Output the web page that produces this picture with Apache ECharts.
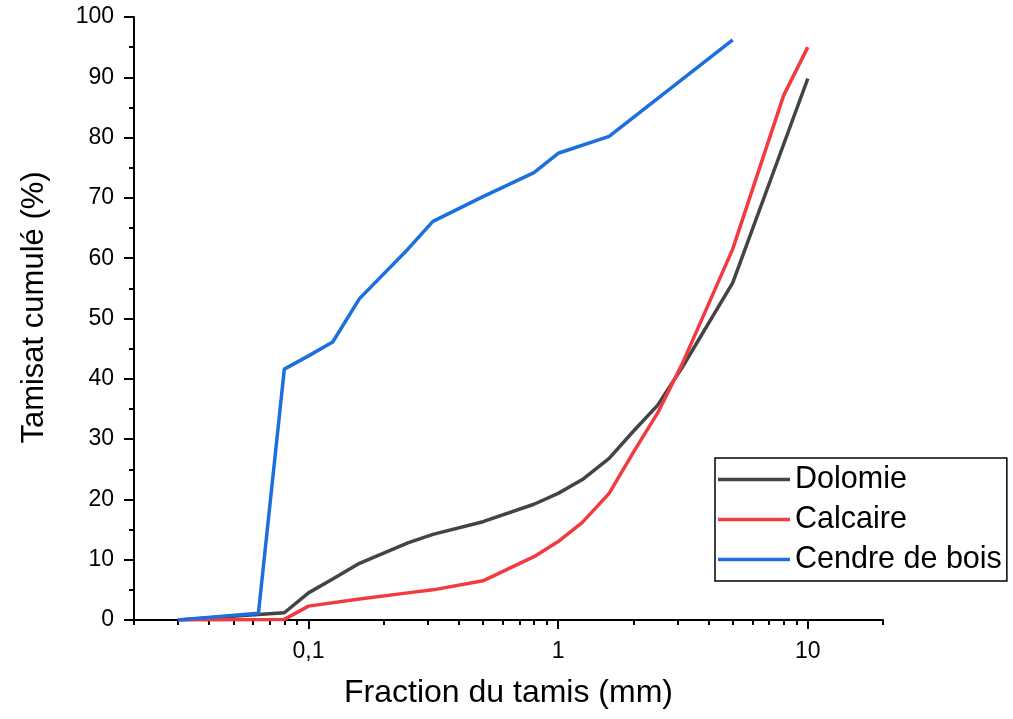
<!DOCTYPE html>
<html>
<head>
<meta charset="utf-8">
<script src="https://cdn.jsdelivr.net/npm/echarts@6/dist/echarts.min.js"></script>
<style>
  html, body { margin: 0; padding: 0; background: #fff; }
  #chart { width: 1013px; height: 719px; }
</style>
</head>
<body>
<div id="chart"></div>
<script>
// ---- data ----
const seriesNames = ['Dolomie', 'Calcaire', 'Cendre de bois'];

const xDolomie = [0.03, 0.063, 0.08, 0.1, 0.125, 0.16, 0.25, 0.315, 0.5, 0.8, 1, 1.25, 1.6, 2, 2.5, 3.15, 5, 10];
const yDolomie = [0, 0.9, 1.2, 4.5, 6.8, 9.4, 12.8, 14.2, 16.3, 19.2, 21.0, 23.3, 26.8, 31.3, 35.6, 42.0, 55.9, 89.8];

const xCalcaire = [0.03, 0.08, 0.1, 0.16, 0.25, 0.315, 0.5, 0.8, 1, 1.25, 1.6, 2, 2.5, 3.15, 5, 8, 10];
const yCalcaire = [0, 0.1, 2.3, 3.5, 4.5, 5.0, 6.5, 10.5, 13.0, 16.2, 21.0, 27.8, 34.3, 42.6, 61.5, 87.0, 95.0];

const xCendre = [0.03, 0.063, 0.08, 0.1, 0.125, 0.16, 0.25, 0.315, 0.5, 0.8, 1, 1.6, 5];
const yCendre = [0, 1.1, 41.6, 43.8, 46.1, 53.3, 61.5, 66.1, 70.2, 74.2, 77.4, 80.2, 96.2];

const xMajorTicks = [0.1, 1, 10];
const xMinorTicks = [0.02, 0.03, 0.04, 0.05, 0.06, 0.07, 0.08, 0.09,
                     0.2, 0.3, 0.4, 0.5, 0.6, 0.7, 0.8, 0.9,
                     2, 3, 4, 5, 6, 7, 8, 9, 20];

const colors = ['#444444', '#f23b3f', '#1b6fdf'];

function zip(xs, ys) { return xs.map((x, i) => [x, ys[i]]); }

const FONT = "'Liberation Sans', Arial, sans-serif";

const chart = echarts.init(document.getElementById('chart'), null, { renderer: 'canvas' });

const baseX = {
  type: 'log', logBase: 10, min: 0.02, max: 20, gridIndex: 0, position: 'bottom',
  splitLine: { show: false }, minorSplitLine: { show: false }
};

chart.setOption({
  backgroundColor: '#fff',
  animation: false,
  color: colors,
  grid: { left: 134, right: 130, top: 17, bottom: 99, containLabel: false },
  legend: {
    orient: 'vertical', left: 715, top: 458,
    data: seriesNames,
    icon: 'rect',
    itemWidth: 72, itemHeight: 3.5, itemGap: 9, itemTextGap: 12,
    padding: [6, 5, 6, 3],
    borderColor: '#000', borderWidth: 1.5,
    textStyle: { fontFamily: FONT, fontSize: 30.5, color: '#000' }
  },
  xAxis: [
    Object.assign({}, baseX, {
      name: 'Fraction du tamis (mm)',
      nameLocation: 'middle', nameGap: 57,
      nameTextStyle: { fontFamily: FONT, fontSize: 32, color: '#000' },
      axisLine: { show: true, lineStyle: { color: '#000', width: 2 } },
      axisTick: { show: true, customValues: xMajorTicks, length: 9, lineStyle: { color: '#000', width: 2 } },
      axisLabel: {
        show: true, customValues: xMajorTicks, margin: 20,
        fontFamily: FONT, fontSize: 23, color: '#000',
        formatter: v => String(v).replace('.', ',')
      }
    }),
    Object.assign({}, baseX, {
      axisLine: { show: false },
      axisTick: { show: true, customValues: xMinorTicks, length: 5, lineStyle: { color: '#000', width: 2 } },
      axisLabel: { show: false }
    })
  ],
  yAxis: {
    type: 'value', min: 0, max: 100, interval: 10,
    name: 'Tamisat cumulé (%)',
    nameLocation: 'middle', nameGap: 84,
    nameTextStyle: { fontFamily: FONT, fontSize: 31, color: '#000', padding: [0, 0, 0, 22] },
    axisLine: { show: true, lineStyle: { color: '#000', width: 2 } },
    axisTick: { show: true, length: 10, lineStyle: { color: '#000', width: 2 } },
    minorTick: { show: true, splitNumber: 2, length: 5, lineStyle: { color: '#000', width: 2 } },
    splitLine: { show: false }, minorSplitLine: { show: false },
    axisLabel: { margin: 20, fontFamily: FONT, fontSize: 23, color: '#000' }
  },
  series: [
    { name: seriesNames[0], type: 'line', xAxisIndex: 0, data: zip(xDolomie, yDolomie),
      symbol: 'none', lineStyle: { width: 3.5, color: colors[0] }, itemStyle: { color: colors[0] } },
    { name: seriesNames[1], type: 'line', xAxisIndex: 0, data: zip(xCalcaire, yCalcaire),
      symbol: 'none', lineStyle: { width: 3.5, color: colors[1] }, itemStyle: { color: colors[1] } },
    { name: seriesNames[2], type: 'line', xAxisIndex: 0, data: zip(xCendre, yCendre),
      symbol: 'none', lineStyle: { width: 3.5, color: colors[2] }, itemStyle: { color: colors[2] } }
  ]
});
</script>
</body>
</html>
